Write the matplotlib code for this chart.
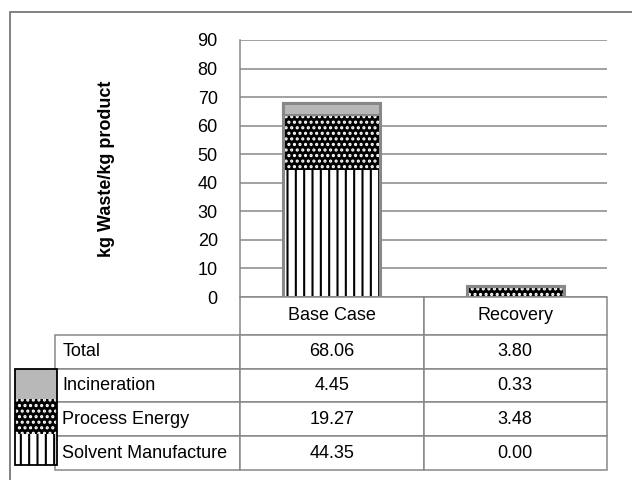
import matplotlib
matplotlib.use('Agg')
import matplotlib.pyplot as plt
from matplotlib.patches import Rectangle

plt.rcParams['font.family'] = ['Liberation Sans', 'DejaVu Sans']
plt.rcParams['hatch.linewidth'] = 1.5

# donnees
scenarios = ['Base Case', 'Recovery']
solvent = [44.35, 0.00]
energy = [19.27, 3.48]
incineration = [4.45, 0.33]
totals = [68.06, 3.80]
row_labels = ['Total', 'Incineration', 'Process Energy', 'Solvent Manufacture']
yticks = [0, 10, 20, 30, 40, 50, 60, 70, 80, 90]

GRIS = '#888888'
GRIS_CLAIR = '#b8b8b8'


def hachure_fine(patches, lw):
    # l'epaisseur des hachures est lue dans rcParams au moment du dessin
    for p in patches:
        orig = p.draw

        def draw(renderer, orig=orig):
            with plt.rc_context({'hatch.linewidth': lw}):
                orig(renderer)
        p.draw = draw


W, H = 632, 480
fig = plt.figure(figsize=(6.32, 4.8), dpi=100)
ax = fig.add_axes([240 / W, 1 - 297 / H, 367 / W, 257 / H])

x = list(range(len(scenarios)))
larg = 0.53

# segments : fond + hachures, puis contour gris
bas_energy = solvent
bas_incin = [s + e for s, e in zip(solvent, energy)]
ax.bar(x, solvent, larg, color='white', edgecolor='black', hatch='||', linewidth=0)
b_energy = ax.bar(x, energy, larg, bottom=bas_energy, color='black', edgecolor='white',
                  hatch='...', linewidth=0)
hachure_fine(b_energy, 0.3)
ax.bar(x, incineration, larg, bottom=bas_incin, color=GRIS_CLAIR, linewidth=0)
ax.bar(x, totals, larg, color='none', edgecolor=GRIS, linewidth=2.2)
ax.bar(x, incineration, larg, bottom=bas_incin, color='none', edgecolor=GRIS, linewidth=1.5)

ax.set_xlim(-0.5, len(scenarios) - 0.5)
ax.set_ylim(0, 90)
ax.set_yticks(yticks)
ax.set_xticks([])
ax.tick_params(axis='y', length=0, pad=16, labelsize=13)
ax.yaxis.grid(True, color=GRIS, linewidth=1.1)
ax.set_axisbelow(True)
for s in ['top', 'right', 'bottom']:
    ax.spines[s].set_visible(False)
ax.spines['left'].set_color(GRIS)
ax.spines['left'].set_linewidth(1.1)

fig.text(107 / W, 1 - 169 / H, 'kg Waste/kg product', rotation=90,
         ha='center', va='center', fontsize=13, fontweight='bold')

# tableau des valeurs
cell_text = []
for i, lab in enumerate(row_labels):
    serie = [totals, incineration, energy, solvent][i]
    cell_text.append([lab] + ['%.2f' % v for v in serie])

table = ax.table(cellText=cell_text, colLabels=[''] + scenarios,
                 colWidths=[185, 183.5, 183.5],
                 bbox=[(55 - 240) / 367, -(470 - 297) / 257, 552 / 367, 173 / 257])
table.auto_set_font_size(False)
table.set_fontsize(13)
for (r, c), cell in table.get_celld().items():
    cell.set_edgecolor(GRIS)
    cell.set_linewidth(1.1)
    if r == 0:
        cell.set_height(cell.get_height() * 38 / 34)
    if c == 0:
        cell._loc = 'left'
        cell.PAD = 0.04
        cell.get_text().set_horizontalalignment('left')
    else:
        cell.get_text().set_horizontalalignment('center')
table[0, 0].visible_edges = ''

# legende a gauche du tableau
sx, sw = 15 / W, 42 / W
swatches = [(369, 399, GRIS_CLAIR, None, None, 1.0),
            (399, 434, 'black', 'white', '...', 0.3),
            (434, 465, 'white', 'black', '||', 1.3)]
for y0, y1, fc, ec, h, hlw in swatches:
    p = Rectangle((sx, 1 - y1 / H), sw, (y1 - y0) / H, transform=fig.transFigure,
                  facecolor=fc, edgecolor=ec if ec else fc, hatch=h, linewidth=0)
    hachure_fine([p], hlw)
    fig.add_artist(p)
fig.add_artist(Rectangle((sx, 1 - 465 / H), sw, 96 / H, transform=fig.transFigure,
                         facecolor='none', edgecolor='black', linewidth=1.3))

# cadre exterieur
fig.add_artist(Rectangle((10 / W, -0.1), 1.2, 1.1 - 12 / H, transform=fig.transFigure,
                         facecolor='none', edgecolor='#777777', linewidth=1.3))

fig.savefig('out.png', dpi=100)
